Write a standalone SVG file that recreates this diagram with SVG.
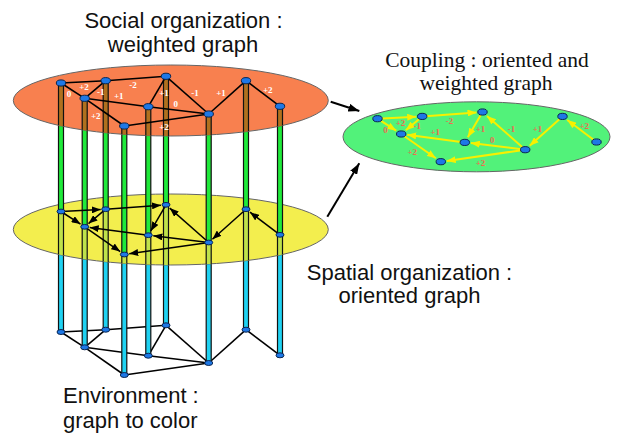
<svg xmlns="http://www.w3.org/2000/svg" xmlns:xlink="http://www.w3.org/1999/xlink" width="619" height="436" viewBox="0 0 619 436">
<style>
.edge{stroke:#000;stroke-width:1.6;fill:none}
.marr{stroke:#000;stroke-width:1.5;fill:none;marker-end:url(#ah)}
.carr{stroke:#f7f000;stroke-width:2;fill:none;marker-end:url(#ahy)}
.big{stroke:#000;stroke-width:2;fill:none;marker-end:url(#ahb)}
.node{fill:#1e78e6;stroke:#0a2550;stroke-width:1}
.cap{fill:#1e78e6;stroke:#0a2550;stroke-width:1}
.wl{font-family:"Liberation Serif",serif;font-weight:bold;font-size:9px;fill:#fff;text-anchor:middle}
.cl{font-family:"Liberation Serif",serif;font-weight:bold;font-size:9px;fill:#ec6e50;text-anchor:middle}
.t{font-family:"Liberation Sans",Arial,sans-serif;font-size:22px;fill:#111}
.ts{font-family:"Liberation Serif","Times New Roman",serif;font-size:21.5px;fill:#111;text-anchor:middle}
</style>
<defs>
<marker id="ah" markerUnits="userSpaceOnUse" markerWidth="9" markerHeight="7" refX="9" refY="3.5" orient="auto"><path d="M0,0 L9,3.5 L0,7 z" fill="#000"/></marker>
<marker id="ahy" markerUnits="userSpaceOnUse" markerWidth="9" markerHeight="7" refX="9" refY="3.5" orient="auto"><path d="M0,0 L9,3.5 L0,7 z" fill="#f7f000"/></marker>
<marker id="ahb" markerUnits="userSpaceOnUse" markerWidth="11" markerHeight="8" refX="11" refY="4" orient="auto"><path d="M0,0 L11,4 L0,8 z" fill="#000"/></marker>
<clipPath id="clipO"><ellipse cx="170.8" cy="100.5" rx="157.5" ry="35.5"/></clipPath>
<clipPath id="clipY"><ellipse cx="170.8" cy="229.5" rx="157.5" ry="35.5"/></clipPath>
<g id="gp" stroke="#111" stroke-width="1.2">
<rect x="58.5" y="83" width="5" height="128.5"/>
<rect x="103.2" y="80.7" width="5" height="128.5"/>
<rect x="163.5" y="76.3" width="5" height="128.5"/>
<rect x="82.2" y="98.3" width="5" height="128.5"/>
<rect x="145.8" y="106.7" width="5" height="128.5"/>
<rect x="121.8" y="126" width="5" height="128.5"/>
<rect x="206.2" y="114" width="5" height="128.5"/>
<rect x="243.5" y="80.7" width="5" height="128.5"/>
<rect x="277.5" y="106.3" width="5" height="128.5"/>
</g>
<g id="cp" stroke="#111" stroke-width="1.2">
<rect x="58.5" y="211.5" width="5" height="120.5"/>
<rect x="103.2" y="209.2" width="5" height="120.5"/>
<rect x="163.5" y="204.8" width="5" height="120.5"/>
<rect x="82.2" y="226.8" width="5" height="120.5"/>
<rect x="145.8" y="235.2" width="5" height="120.5"/>
<rect x="121.8" y="254.5" width="5" height="120.5"/>
<rect x="206.2" y="242.5" width="5" height="120.5"/>
<rect x="243.5" y="209.2" width="5" height="120.5"/>
<rect x="277.5" y="234.8" width="5" height="120.5"/>
</g>
</defs>

<!-- Environment layer edges -->
<g id="env-edges">
<line class="edge" x1="61" y1="332" x2="105.7" y2="329.7"/>
<line class="edge" x1="105.7" y1="329.7" x2="166" y2="325.3"/>
<line class="edge" x1="61" y1="332" x2="84.7" y2="347.3"/>
<line class="edge" x1="105.7" y1="329.7" x2="84.7" y2="347.3"/>
<line class="edge" x1="84.7" y1="347.3" x2="148.3" y2="355.7"/>
<line class="edge" x1="148.3" y1="355.7" x2="166" y2="325.3"/>
<line class="edge" x1="148.3" y1="355.7" x2="208.7" y2="363"/>
<line class="edge" x1="166" y1="325.3" x2="208.7" y2="363"/>
<line class="edge" x1="84.7" y1="347.3" x2="124.3" y2="375"/>
<line class="edge" x1="124.3" y1="375" x2="208.7" y2="363"/>
<line class="edge" x1="208.7" y1="363" x2="246" y2="329.7"/>
<line class="edge" x1="246" y1="329.7" x2="280" y2="355.3"/>
</g>

<g id="pillars-cyan"><use xlink:href="#cp" fill="#1fd2f2"/></g>

<g id="env-nodes">
<g id="env-A"><ellipse class="cap" cx="61" cy="332" rx="4" ry="2.5"/></g>
<g id="env-B"><ellipse class="cap" cx="105.7" cy="329.7" rx="4" ry="2.5"/></g>
<g id="env-C"><ellipse class="cap" cx="166" cy="325.3" rx="4" ry="2.5"/></g>
<g id="env-D"><ellipse class="cap" cx="84.7" cy="347.3" rx="4" ry="2.5"/></g>
<g id="env-E"><ellipse class="cap" cx="148.3" cy="355.7" rx="4" ry="2.5"/></g>
<g id="env-F"><ellipse class="cap" cx="124.3" cy="375" rx="4" ry="2.5"/></g>
<g id="env-G"><ellipse class="cap" cx="208.7" cy="363" rx="4" ry="2.5"/></g>
<g id="env-H"><ellipse class="cap" cx="246" cy="329.7" rx="4" ry="2.5"/></g>
<g id="env-I"><ellipse class="cap" cx="280" cy="355.3" rx="4" ry="2.5"/></g>
</g>

<!-- Spatial layer -->
<g id="spatial-plane"><ellipse cx="170.8" cy="229.5" rx="157.5" ry="35.5" fill="#f3ee4e" stroke="#666" stroke-width="1"/></g>
<g clip-path="url(#clipY)"><use xlink:href="#cp" fill="#bfe24a"/></g>
<g id="pillars-green"><use xlink:href="#gp" fill="#1fea3a"/></g>

<g id="spatial-edges">
<line class="marr" x1="61" y1="211.5" x2="100.7" y2="209.5"/>
<line class="marr" x1="105.7" y1="209.2" x2="161" y2="205.2"/>
<line class="marr" x1="61" y1="211.5" x2="80.5" y2="224.1"/>
<line class="marr" x1="105.7" y1="209.2" x2="88.5" y2="223.6"/>
<line class="marr" x1="166" y1="204.8" x2="150.8" y2="230.9"/>
<line class="marr" x1="148.3" y1="235.2" x2="89.7" y2="227.5"/>
<line class="marr" x1="208.7" y1="242.5" x2="153.3" y2="235.8"/>
<line class="marr" x1="208.7" y1="242.5" x2="169.7" y2="208.1"/>
<line class="marr" x1="84.7" y1="226.8" x2="120.2" y2="251.6"/>
<line class="marr" x1="208.7" y1="242.5" x2="129.2" y2="253.8"/>
<line class="marr" x1="246" y1="209.2" x2="212.4" y2="239.2"/>
<line class="marr" x1="280" y1="234.8" x2="250" y2="212.2"/>
</g>

<g id="spatial-nodes">
<g id="sp-A"><ellipse class="cap" cx="61" cy="211.5" rx="4" ry="2.4"/></g>
<g id="sp-B"><ellipse class="cap" cx="105.7" cy="209.2" rx="4" ry="2.4"/></g>
<g id="sp-C"><ellipse class="cap" cx="166" cy="204.8" rx="4" ry="2.4"/></g>
<g id="sp-D"><ellipse class="cap" cx="84.7" cy="226.8" rx="4" ry="2.4"/></g>
<g id="sp-E"><ellipse class="cap" cx="148.3" cy="235.2" rx="4" ry="2.4"/></g>
<g id="sp-F"><ellipse class="cap" cx="124.3" cy="254.5" rx="4" ry="2.4"/></g>
<g id="sp-G"><ellipse class="cap" cx="208.7" cy="242.5" rx="4" ry="2.4"/></g>
<g id="sp-H"><ellipse class="cap" cx="246" cy="209.2" rx="4" ry="2.4"/></g>
<g id="sp-I"><ellipse class="cap" cx="280" cy="234.8" rx="4" ry="2.4"/></g>
</g>

<!-- Social layer -->
<g id="social-plane"><ellipse cx="170.8" cy="100.5" rx="157.5" ry="35.5" fill="#f8804f" stroke="#666" stroke-width="1"/></g>
<g clip-path="url(#clipO)"><use xlink:href="#gp" fill="#b0701e"/></g>

<g id="social-edges">
<line class="edge" x1="61" y1="83" x2="105.7" y2="80.7"/>
<line class="edge" x1="105.7" y1="80.7" x2="166" y2="76.3"/>
<line class="edge" x1="61" y1="83" x2="84.7" y2="98.3"/>
<line class="edge" x1="105.7" y1="80.7" x2="84.7" y2="98.3"/>
<line class="edge" x1="84.7" y1="98.3" x2="148.3" y2="106.7"/>
<line class="edge" x1="148.3" y1="106.7" x2="166" y2="76.3"/>
<line class="edge" x1="148.3" y1="106.7" x2="208.7" y2="114"/>
<line class="edge" x1="166" y1="76.3" x2="208.7" y2="114"/>
<line class="edge" x1="84.7" y1="98.3" x2="124.3" y2="126"/>
<line class="edge" x1="124.3" y1="126" x2="208.7" y2="114"/>
<line class="edge" x1="208.7" y1="114" x2="246" y2="80.7"/>
<line class="edge" x1="246" y1="80.7" x2="280" y2="106.3"/>
</g>

<g id="social-nodes">
<g id="so-A"><ellipse class="node" cx="61" cy="83" rx="4.7" ry="3.1"/></g>
<g id="so-B"><ellipse class="node" cx="105.7" cy="80.7" rx="4.7" ry="3.1"/></g>
<g id="so-C"><ellipse class="node" cx="166" cy="76.3" rx="4.7" ry="3.1"/></g>
<g id="so-D"><ellipse class="node" cx="84.7" cy="98.3" rx="4.7" ry="3.1"/></g>
<g id="so-E"><ellipse class="node" cx="148.3" cy="106.7" rx="4.7" ry="3.1"/></g>
<g id="so-F"><ellipse class="node" cx="124.3" cy="126" rx="4.7" ry="3.1"/></g>
<g id="so-G"><ellipse class="node" cx="208.7" cy="114" rx="4.7" ry="3.1"/></g>
<g id="so-H"><ellipse class="node" cx="246" cy="80.7" rx="4.7" ry="3.1"/></g>
<g id="so-I"><ellipse class="node" cx="280" cy="106.3" rx="4.7" ry="3.1"/></g>
</g>

<g id="social-labels">
<text class="wl" x="84" y="90">+2</text>
<text class="wl" x="69" y="97">0</text>
<text class="wl" x="100.7" y="95">-1</text>
<text class="wl" x="133" y="88">-2</text>
<text class="wl" x="118.7" y="99">+1</text>
<text class="wl" x="164" y="96">+1</text>
<text class="wl" x="175.7" y="107">0</text>
<text class="wl" x="195" y="96">-1</text>
<text class="wl" x="221" y="96">+1</text>
<text class="wl" x="267.7" y="93">+2</text>
<text class="wl" x="95.7" y="119">+2</text>
<text class="wl" x="164" y="130">+2</text>
</g>

<!-- Coupling layer -->
<g id="coupling-plane"><ellipse cx="476.5" cy="136.8" rx="133.5" ry="35" fill="#52f27a" stroke="#666" stroke-width="1"/></g>

<g id="coupling-edges">
<line class="carr" x1="377.5" y1="118.7" x2="416.2" y2="116.7"/>
<line class="carr" x1="422.2" y1="116.4" x2="476.5" y2="112.4"/>
<line class="carr" x1="377.5" y1="118.7" x2="396.2" y2="130.7"/>
<line class="carr" x1="422.2" y1="116.4" x2="405.8" y2="130.2"/>
<line class="carr" x1="482.5" y1="112" x2="467.8" y2="137.2"/>
<line class="carr" x1="464.8" y1="142.4" x2="407.2" y2="134.8"/>
<line class="carr" x1="525.2" y1="149.7" x2="470.8" y2="143.1"/>
<line class="carr" x1="525.2" y1="149.7" x2="487" y2="116"/>
<line class="carr" x1="401.2" y1="134" x2="435.9" y2="158.3"/>
<line class="carr" x1="525.2" y1="149.7" x2="446.7" y2="160.9"/>
<line class="carr" x1="562.5" y1="116.4" x2="529.7" y2="145.7"/>
<line class="carr" x1="596.5" y1="142" x2="567.3" y2="120"/>
</g>

<g id="coupling-nodes">
<g id="cp-A"><ellipse class="node" cx="377.5" cy="118.7" rx="4.7" ry="3.1"/></g>
<g id="cp-B"><ellipse class="node" cx="422.2" cy="116.4" rx="4.7" ry="3.1"/></g>
<g id="cp-C"><ellipse class="node" cx="482.5" cy="112" rx="4.7" ry="3.1"/></g>
<g id="cp-D"><ellipse class="node" cx="401.2" cy="134" rx="4.7" ry="3.1"/></g>
<g id="cp-E"><ellipse class="node" cx="464.8" cy="142.4" rx="4.7" ry="3.1"/></g>
<g id="cp-F"><ellipse class="node" cx="440.8" cy="161.7" rx="4.7" ry="3.1"/></g>
<g id="cp-G"><ellipse class="node" cx="525.2" cy="149.7" rx="4.7" ry="3.1"/></g>
<g id="cp-H"><ellipse class="node" cx="562.5" cy="116.4" rx="4.7" ry="3.1"/></g>
<g id="cp-I"><ellipse class="node" cx="596.5" cy="142" rx="4.7" ry="3.1"/></g>
</g>

<g id="coupling-labels">
<text class="cl" x="400.5" y="125.7">+2</text>
<text class="cl" x="385.5" y="132.7">0</text>
<text class="cl" x="417.2" y="128.7">-1</text>
<text class="cl" x="449.5" y="123.7">-2</text>
<text class="cl" x="435.2" y="134.7">+1</text>
<text class="cl" x="480.5" y="131.7">+1</text>
<text class="cl" x="492.2" y="142.7">0</text>
<text class="cl" x="511.5" y="131.7">-1</text>
<text class="cl" x="537.5" y="131.7">+1</text>
<text class="cl" x="584.2" y="128.7">+2</text>
<text class="cl" x="412.2" y="154.7">+2</text>
<text class="cl" x="480.5" y="165.7">+2</text>
</g>

<g id="links">
<line class="big" x1="330.7" y1="101.7" x2="359.3" y2="111"/>
<line class="big" x1="327.3" y1="216.7" x2="359.3" y2="163.3"/>
</g>

<g id="titles">
<text class="t" x="183.5" y="28" text-anchor="middle">Social organization :</text>
<text class="t" x="183" y="52" text-anchor="middle">weighted graph</text>
<text class="ts" x="487" y="67">Coupling : oriented and</text>
<text class="ts" x="486" y="90">weighted graph</text>
<text class="t" x="409.5" y="280" text-anchor="middle">Spatial organization :</text>
<text class="t" x="409.5" y="303" text-anchor="middle">oriented graph</text>
<text class="t" x="63" y="403">Environment :</text>
<text class="t" x="63" y="428">graph to color</text>
</g>
</svg>
